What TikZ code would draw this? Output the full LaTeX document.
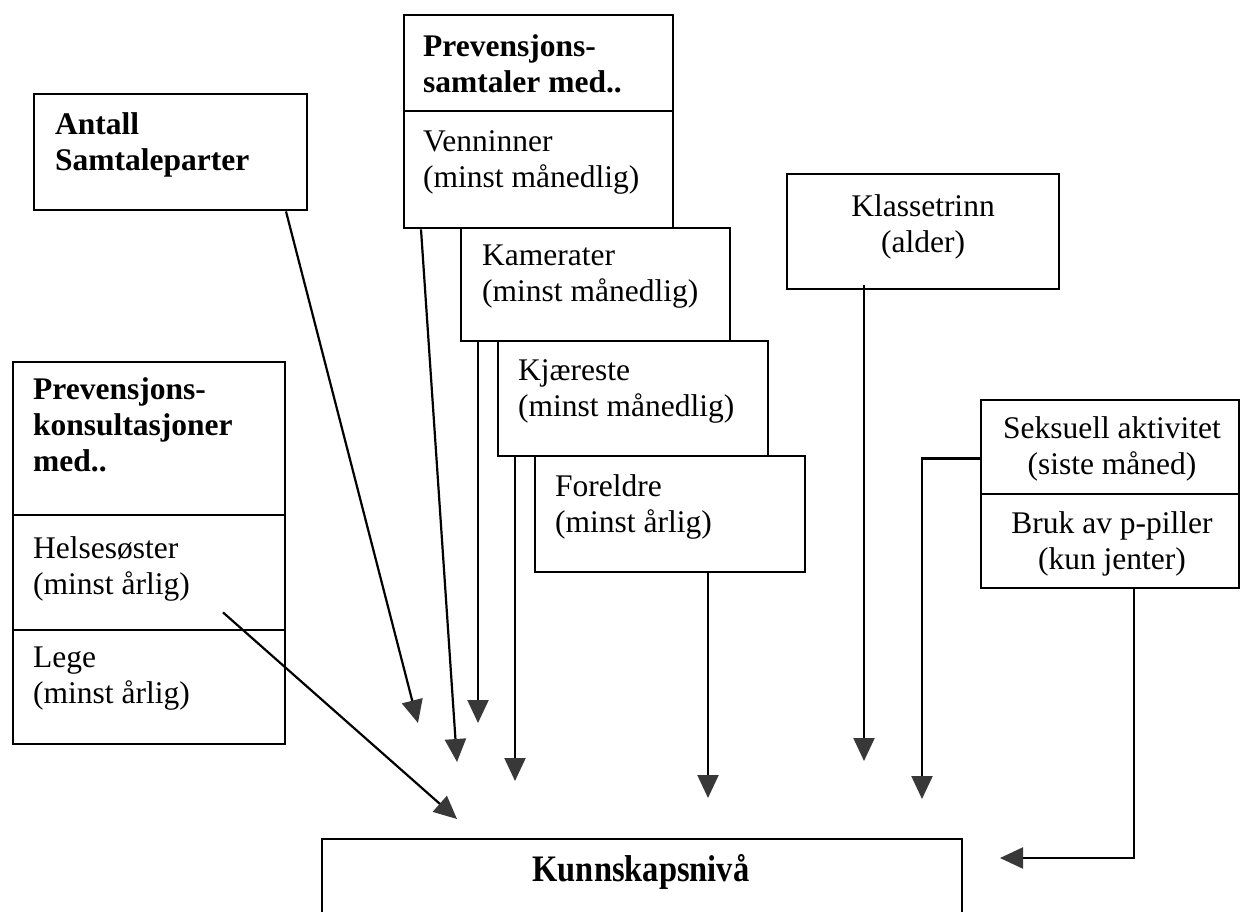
\documentclass[tikz,border=0pt]{standalone}
\usepackage{fontspec}
\usepackage{graphicx}
\setmainfont{Liberation Serif}
\usetikzlibrary{arrows.meta,calc}
\begin{document}
\begin{tikzpicture}[x=1pt,y=-1pt,
  box/.style={draw=black, fill=white, line width=2.4pt, rectangle, inner sep=0pt, anchor=north west},
  lbl/.style={anchor=north west, align=left, inner sep=0pt, font=\fontsize{31.5}{36}\selectfont},
  blbl/.style={lbl, font=\fontsize{31.5}{36}\selectfont\bfseries},
  clbl/.style={anchor=north, align=center, inner sep=0pt, font=\fontsize{31.5}{36}\selectfont},
  conn/.style={line width=2.2pt, draw=black, -{Triangle[length=23pt,width=21pt,color=black!78]}},
  elbow/.style={line width=2.2pt, draw=black, -{Triangle[length=23pt,width=21pt,color=black!78]}}
]
\useasboundingbox (0,0) rectangle (1242,912);
\fill[white] (0,0) rectangle (1242,912);

% boxes
\node[box, minimum width=273pt, minimum height=116pt] (antall) at (33,93) {};
\node[box, minimum width=269pt, minimum height=96pt] (psam) at (403,14) {};
\node[box, minimum width=269pt, minimum height=117pt] (venn) at (403,110) {};
\node[box, minimum width=269pt, minimum height=113pt] (kam) at (460,227) {};
\node[box, minimum width=270pt, minimum height=115pt] (kja) at (497,340) {};
\node[box, minimum width=270pt, minimum height=116pt] (fore) at (534,455) {};
\node[box, minimum width=272pt, minimum height=115pt] (klass) at (786,173) {};
\node[box, minimum width=258pt, minimum height=94pt] (seks) at (980,399) {};
\node[box, minimum width=258pt, minimum height=94pt] (ppil) at (980,493) {};
\node[box, minimum width=272pt, minimum height=153pt] (pkons) at (12,361) {};
\node[box, minimum width=272pt, minimum height=115pt] (helse) at (12,514) {};
\node[box, minimum width=272pt, minimum height=114pt] (lege) at (12,629) {};
\node[box, minimum width=640pt, minimum height=170pt] (kunn) at (321,838) {};

% texts
\node[blbl] (tantall) at (55,112) {Antall\\Samtaleparter};
\node[blbl] (tpsam) at (423,34) {Prevensjons-\\samtaler med..};
\node[lbl] (tvenn) at (423,130) {Venninner\\(minst månedlig)};
\node[lbl] (tkam) at (482,245) {Kamerater\\(minst månedlig)};
\node[lbl] (tkja) at (518,359) {Kjæreste\\(minst månedlig)};
\node[lbl] (tfore) at (555,474) {Foreldre\\(minst årlig)};
\node[clbl] (tklass) at (923,194) {Klassetrinn\\(alder)};
\node[clbl] (tseks) at (1112,416) {Seksuell aktivitet\\(siste måned)};
\node[clbl] (tppil) at (1112,511) {Bruk av p-piller\\(kun jenter)};
\node[blbl] (tpkons) at (33,377) {Prevensjons-\\konsultasjoner\\med..};
\node[lbl] (thelse) at (33,536) {Helsesøster\\(minst årlig)};
\node[lbl] (tlege) at (33,647) {Lege\\(minst årlig)};
\node[anchor=base, inner sep=0pt, font=\fontsize{32.5}{36}\selectfont\bfseries] (tkunn) at (641,881) {\scalebox{1}[1.15]{Kunnskapsnivå}};

% arrow end points
\coordinate (eA) at (418,723);
\coordinate (eV) at (457,762);
\coordinate (eK) at (478,723);
\coordinate (eJ) at (515,781);
\coordinate (eF) at (708,798);
\coordinate (eC) at (864,761);
\coordinate (eS) at (922,799);
\coordinate (eP) at (1000,858);
\coordinate (eH) at (457,819);
\coordinate (sH) at ($(helse.south west)+(211,-19)$);

% connectors
\draw[conn] ($(antall.south west)+(253,0)$) -- (eA);
\draw[conn] ($(venn.south west)+(18,0)$) -- (eV);
\draw[conn] ($(kam.south west)+(18,0)$) -- (eK);
\draw[conn] ($(kja.south west)+(18,0)$) -- (eJ);
\draw[conn] ($(fore.south west)+(174,0)$) -- (eF);
\draw[conn] ($(klass.south west)+(78,-5)$) -- (eC);
\draw[elbow] ($(seks.south west)+(0,-37)$) -| (eS);
\draw[elbow] ($(ppil.south west)+(154,0)$) |- (eP);
\draw[conn] (sH) -- (eH);
\end{tikzpicture}
\end{document}
